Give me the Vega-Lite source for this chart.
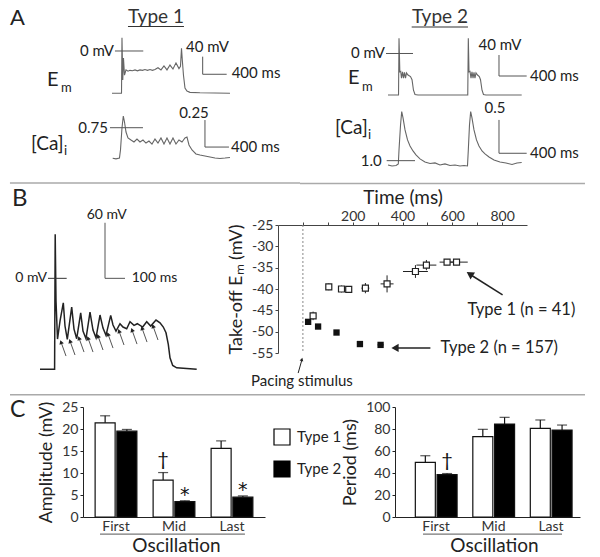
{
"$schema": "https://vega.github.io/schema/vega-lite/v6.json",
"padding": 0,
"background": "white",
"config": {
  "font": "Lato",
  "view": {"stroke": null},
  "axis": {"grid": false, "labelFont": "Lato", "titleFont": "Lato", "titleFontWeight": "normal", "labelColor": "#333", "titleColor": "#222", "domainColor": "#222", "tickColor": "#222", "labelFontSize": 14, "titleFontSize": 18, "labelOverlap": false},
  "text": {"font": "Lato", "color": "#222"},
  "legend": {"labelFont": "Lato"}
},
"datasets": {
  "t1em": [{"t":-167,"v":-96},{"t":-8,"v":-96},{"t":0,"v":30},{"t":13,"v":-66},{"t":25,"v":-16},{"t":42,"v":-55},{"t":67,"v":-43},{"t":100,"v":-46},{"t":133,"v":-44},{"t":175,"v":-45},{"t":217,"v":-43},{"t":258,"v":-45},{"t":300,"v":-43},{"t":342,"v":-44},{"t":383,"v":-42},{"t":425,"v":-44},{"t":467,"v":-42},{"t":508,"v":-44},{"t":550,"v":-42},{"t":600,"v":-38},{"t":650,"v":-43},{"t":700,"v":-34},{"t":750,"v":-43},{"t":800,"v":-32},{"t":850,"v":-41},{"t":900,"v":-27},{"t":950,"v":-40},{"t":975,"v":-35},{"t":992,"v":6},{"t":1005,"v":-20},{"t":1025,"v":-55},{"t":1050,"v":-84},{"t":1083,"v":-91},{"t":1133,"v":-94},{"t":1300,"v":-95},{"t":1800,"v":-96}],
  "t1ca": [{"t":-155,"v":0.467},{"t":-100,"v":0.462},{"t":-42,"v":0.469},{"t":-25,"v":0.544},{"t":0,"v":0.747},{"t":22,"v":0.858},{"t":42,"v":0.803},{"t":67,"v":0.71},{"t":100,"v":0.655},{"t":150,"v":0.636},{"t":200,"v":0.618},{"t":250,"v":0.645},{"t":300,"v":0.618},{"t":350,"v":0.636},{"t":400,"v":0.608},{"t":450,"v":0.627},{"t":500,"v":0.599},{"t":550,"v":0.645},{"t":600,"v":0.608},{"t":650,"v":0.655},{"t":700,"v":0.599},{"t":750,"v":0.655},{"t":800,"v":0.599},{"t":850,"v":0.655},{"t":900,"v":0.599},{"t":950,"v":0.636},{"t":1000,"v":0.618},{"t":1050,"v":0.655},{"t":1083,"v":0.664},{"t":1117,"v":0.59},{"t":1167,"v":0.544},{"t":1233,"v":0.507},{"t":1300,"v":0.497},{"t":1383,"v":0.488},{"t":1467,"v":0.479},{"t":1550,"v":0.469},{"t":1633,"v":0.465},{"t":1717,"v":0.469},{"t":1800,"v":0.474}],
  "t2em": [{"t":-159,"v":-79},{"t":-7,"v":-79},{"t":0,"v":29},{"t":12,"v":-35},{"t":25,"v":-34},{"t":36,"v":-47},{"t":51,"v":-35},{"t":65,"v":-47},{"t":79,"v":-36},{"t":94,"v":-47},{"t":108,"v":-37},{"t":130,"v":-41},{"t":166,"v":-44},{"t":188,"v":-50},{"t":209,"v":-70},{"t":231,"v":-78},{"t":274,"v":-79},{"t":993,"v":-79},{"t":1001,"v":29},{"t":1011,"v":-35},{"t":1025,"v":-34},{"t":1040,"v":-47},{"t":1054,"v":-35},{"t":1069,"v":-47},{"t":1083,"v":-36},{"t":1097,"v":-47},{"t":1112,"v":-37},{"t":1134,"v":-41},{"t":1160,"v":-44},{"t":1177,"v":-50},{"t":1199,"v":-70},{"t":1220,"v":-78},{"t":1256,"v":-79},{"t":1772,"v":-79}],
  "t2ca": [{"t":-159,"v":0.936},{"t":-101,"v":0.921},{"t":-43,"v":0.928},{"t":-10,"v":0.951},{"t":0,"v":1.161},{"t":22,"v":1.536},{"t":39,"v":1.735},{"t":58,"v":1.641},{"t":87,"v":1.461},{"t":123,"v":1.311},{"t":159,"v":1.221},{"t":202,"v":1.146},{"t":245,"v":1.086},{"t":303,"v":1.026},{"t":375,"v":0.981},{"t":448,"v":0.958},{"t":520,"v":0.966},{"t":592,"v":0.936},{"t":664,"v":0.951},{"t":736,"v":0.928},{"t":809,"v":0.936},{"t":881,"v":0.921},{"t":939,"v":0.928},{"t":989,"v":0.921},{"t":1001,"v":1.161},{"t":1018,"v":1.536},{"t":1035,"v":1.735},{"t":1054,"v":1.641},{"t":1083,"v":1.461},{"t":1119,"v":1.311},{"t":1155,"v":1.221},{"t":1199,"v":1.146},{"t":1242,"v":1.101},{"t":1300,"v":1.056},{"t":1372,"v":1.011},{"t":1458,"v":0.981},{"t":1545,"v":0.966},{"t":1632,"v":0.943},{"t":1704,"v":0.966},{"t":1772,"v":0.973}],
  "bem": [{"t":-75,"v":-98.3},{"t":-2,"v":-98.3},{"t":1,"v":47.5},{"t":5,"v":-24.5},{"t":12.5,"v":-65.6},{"t":25,"v":-46.1},{"t":41.5,"v":-26.4},{"t":50,"v":-51.5},{"t":61.5,"v":-65.9},{"t":83.5,"v":-31},{"t":95,"v":-54.8},{"t":108.5,"v":-65.2},{"t":128.5,"v":-37.2},{"t":140,"v":-56.9},{"t":155,"v":-65.2},{"t":175,"v":-36.4},{"t":190,"v":-55.8},{"t":205,"v":-64.2},{"t":225,"v":-39.6},{"t":240,"v":-53.7},{"t":255,"v":-61.6},{"t":278.5,"v":-40},{"t":290,"v":-50.4},{"t":305,"v":-56.9},{"t":325,"v":-49},{"t":340,"v":-52.6},{"t":358.5,"v":-54.4},{"t":375,"v":-46.9},{"t":395,"v":-50.8},{"t":411.5,"v":-49},{"t":438.5,"v":-52.6},{"t":458.5,"v":-46.9},{"t":478.5,"v":-51.5},{"t":505,"v":-45},{"t":525,"v":-48},{"t":541.5,"v":-52.6},{"t":555,"v":-58.8},{"t":566.5,"v":-71.3},{"t":575,"v":-85.8},{"t":588.5,"v":-94},{"t":608.5,"v":-96.6},{"t":708.5,"v":-98.3}],
  "barrows": [{"tt":55,"vt":-83.9,"th":30,"vh":-68.8},{"tt":100,"vt":-82.8,"th":75,"vh":-67.7},{"tt":145,"vt":-79.6,"th":120,"vh":-64.5},{"tt":190,"vt":-79.6,"th":165,"vh":-64.5},{"tt":240,"vt":-77.4,"th":215,"vh":-62.3},{"tt":290,"vt":-75.3,"th":265,"vh":-60.2},{"tt":345,"vt":-72,"th":320,"vh":-56.9},{"tt":410,"vt":-71,"th":385,"vh":-55.8},{"tt":460,"vt":-68.8,"th":435,"vh":-53.7},{"tt":515,"vt":-66.6,"th":490,"vh":-51.5}],
  "s1": [{"time":41,"em":-46.3,"tlo":33,"thi":49,"elo":-47.3,"ehi":-45.3},{"time":104,"em":-39.5,"tlo":98,"thi":110,"elo":-40.3,"ehi":-38.7},{"time":155,"em":-40,"tlo":147,"thi":163,"elo":-40.8,"ehi":-39.2},{"time":184,"em":-40.1,"tlo":178,"thi":190,"elo":-40.8,"ehi":-39.4},{"time":251,"em":-39.8,"tlo":235,"thi":267,"elo":-41,"ehi":-38.6},{"time":338,"em":-38.8,"tlo":312,"thi":364,"elo":-40.8,"ehi":-36.8},{"time":452,"em":-35.9,"tlo":402,"thi":502,"elo":-37.4,"ehi":-34.4},{"time":496,"em":-34.4,"tlo":456,"thi":536,"elo":-35.6,"ehi":-33.2},{"time":579,"em":-33.7,"tlo":549,"thi":609,"elo":-34.4,"ehi":-33},{"time":617,"em":-33.7,"tlo":572,"thi":662,"elo":-34.4,"ehi":-33}],
  "s2": [{"time":21,"em":-47.7,"tlo":17,"thi":25,"elo":-48.1,"ehi":-47.3},{"time":61,"em":-48.8,"tlo":57,"thi":65,"elo":-49.2,"ehi":-48.4},{"time":135,"em":-50.2,"tlo":130,"thi":140,"elo":-50.6,"ehi":-49.8},{"time":229,"em":-52.9,"tlo":223,"thi":235,"elo":-53.3,"ehi":-52.5},{"time":312,"em":-53.1,"tlo":300,"thi":324,"elo":-53.5,"ehi":-52.7}],
  "amp": [{"osc":"First","type":"Type 1","mean":21.4,"err":23.0,"sig":""},{"osc":"First","type":"Type 2","mean":19.5,"err":19.9,"sig":""},{"osc":"Mid","type":"Type 1","mean":8.4,"err":10.1,"sig":"†"},{"osc":"Mid","type":"Type 2","mean":3.5,"err":3.7,"sig":"*"},{"osc":"Last","type":"Type 1","mean":15.6,"err":17.3,"sig":""},{"osc":"Last","type":"Type 2","mean":4.5,"err":4.8,"sig":"*"}],
  "period": [{"osc":"First","type":"Type 1","mean":49.7,"err":55.7,"sig":""},{"osc":"First","type":"Type 2","mean":38.5,"err":39.5,"sig":"†"},{"osc":"Mid","type":"Type 1","mean":73,"err":79.7,"sig":""},{"osc":"Mid","type":"Type 2","mean":84.5,"err":90.6,"sig":""},{"osc":"Last","type":"Type 1","mean":80.6,"err":88.2,"sig":""},{"osc":"Last","type":"Type 2","mean":79,"err":83.6,"sig":""}]
},
"spacing": 0,
"bounds": "full",
"vconcat": [
 {"hconcat": [
  {"width": 300, "height": 184,
   "resolve": {"scale": {"y": "independent"}},
   "layer": [
    {"data": {"values": [{}]},
     "layer": [
      {"data": {"name": "t1em"}, "mark": {"type": "line", "color": "#666", "strokeWidth": 1.1},
       "encoding": {"x": {"field": "t", "type": "quantitative", "scale": {"domain": [-2033, 2967], "nice": false, "zero": false}, "axis": null},
                    "y": {"field": "v", "type": "quantitative", "scale": {"domain": [-302.3, 115.9], "nice": false, "zero": false}, "axis": null}}},
      {"mark": {"type": "rule", "color": "#555"}, "encoding": {"x": {"datum": -117, "axis": null}, "x2": {"datum": 355}, "y": {"datum": 0, "axis": null}}},
      {"mark": {"type": "rule", "color": "#555"}, "encoding": {"x": {"datum": 1345, "axis": null}, "y": {"datum": -12.9, "axis": null}, "y2": {"datum": -52.9}}},
      {"mark": {"type": "rule", "color": "#555"}, "encoding": {"x": {"datum": 1345, "axis": null}, "x2": {"datum": 1745}, "y": {"datum": -52.9, "axis": null}}},
      {"mark": {"type": "text", "text": "0 mV", "align": "right", "baseline": "middle", "fontSize": 15}, "encoding": {"x": {"datum": -133, "axis": null}, "y": {"datum": 0, "axis": null}}},
      {"mark": {"type": "text", "text": "40 mV", "align": "center", "baseline": "middle", "fontSize": 15}, "encoding": {"x": {"datum": 1425, "axis": null}, "y": {"datum": 9, "axis": null}}},
      {"mark": {"type": "text", "text": "400 ms", "align": "left", "baseline": "middle", "fontSize": 15}, "encoding": {"x": {"datum": 1828, "axis": null}, "y": {"datum": -50, "axis": null}}},
      {"mark": {"type": "text", "text": "E", "align": "left", "baseline": "alphabetic", "fontSize": 20}, "encoding": {"x": {"datum": -1250, "axis": null}, "y": {"datum": -79.5, "axis": null}}},
      {"mark": {"type": "text", "text": "m", "align": "left", "baseline": "alphabetic", "fontSize": 13}, "encoding": {"x": {"datum": -1017, "axis": null}, "y": {"datum": -93.2, "axis": null}}},
      {"mark": {"type": "text", "text": "Type 1", "align": "center", "baseline": "alphabetic", "fontSize": 19, "color": "#333"}, "encoding": {"x": {"datum": 567, "axis": null}, "y": {"datum": 63.6, "axis": null}}},
      {"mark": {"type": "rule", "color": "#333", "strokeWidth": 1.2}, "encoding": {"x": {"datum": 100, "axis": null}, "x2": {"datum": 1033}, "y": {"datum": 55.7, "axis": null}}},
      {"mark": {"type": "text", "text": "A", "align": "left", "baseline": "alphabetic", "fontSize": 22}, "encoding": {"x": {"datum": -1867, "axis": null}, "y": {"datum": 59.1, "axis": null}}},
      {"mark": {"type": "rule", "color": "#aaa", "strokeWidth": 1.5}, "encoding": {"x": {"datum": -1867, "axis": null}, "x2": {"datum": 2967}, "y": {"datum": -300, "axis": null}}}
     ]},
    {"data": {"values": [{}]},
     "layer": [
      {"data": {"name": "t1ca"}, "mark": {"type": "line", "color": "#666", "strokeWidth": 1.1},
       "encoding": {"x": {"field": "t", "type": "quantitative", "scale": {"domain": [-2033, 2967], "nice": false, "zero": false}, "axis": null},
                    "y": {"field": "v", "type": "quantitative", "scale": {"domain": [0.229, 1.932], "nice": false, "zero": false}, "axis": null}}},
      {"mark": {"type": "rule", "color": "#555"}, "encoding": {"x": {"datum": -200, "axis": null}, "x2": {"datum": 350}, "y": {"datum": 0.75, "axis": null}}},
      {"mark": {"type": "rule", "color": "#555"}, "encoding": {"x": {"datum": 1383, "axis": null}, "y": {"datum": 0.821, "axis": null}, "y2": {"datum": 0.571}}},
      {"mark": {"type": "rule", "color": "#555"}, "encoding": {"x": {"datum": 1383, "axis": null}, "x2": {"datum": 1783}, "y": {"datum": 0.571, "axis": null}}},
      {"mark": {"type": "text", "text": "0.75", "align": "right", "baseline": "middle", "fontSize": 15}, "encoding": {"x": {"datum": -233, "axis": null}, "y": {"datum": 0.75, "axis": null}}},
      {"mark": {"type": "text", "text": "0.25", "align": "center", "baseline": "middle", "fontSize": 15}, "encoding": {"x": {"datum": 1200, "axis": null}, "y": {"datum": 0.889, "axis": null}}},
      {"mark": {"type": "text", "text": "400 ms", "align": "left", "baseline": "middle", "fontSize": 15}, "encoding": {"x": {"datum": 1817, "axis": null}, "y": {"datum": 0.574, "axis": null}}},
      {"mark": {"type": "text", "text": "[Ca]", "align": "left", "baseline": "alphabetic", "fontSize": 19}, "encoding": {"x": {"datum": -1517, "axis": null}, "y": {"datum": 0.544, "axis": null}}},
      {"mark": {"type": "text", "text": "i", "align": "left", "baseline": "alphabetic", "fontSize": 13}, "encoding": {"x": {"datum": -967, "axis": null}, "y": {"datum": 0.497, "axis": null}}}
     ]}
   ]},
  {"width": 300, "height": 184,
   "resolve": {"scale": {"y": "independent"}},
   "layer": [
    {"data": {"values": [{}]},
     "layer": [
      {"data": {"name": "t2em"}, "mark": {"type": "line", "color": "#666", "strokeWidth": 1.1},
       "encoding": {"x": {"field": "t", "type": "quantitative", "scale": {"domain": [-1430, 2903], "nice": false, "zero": false}, "axis": null},
                    "y": {"field": "v", "type": "quantitative", "scale": {"domain": [-248.6, 101.9], "nice": false, "zero": false}, "axis": null}}},
      {"mark": {"type": "rule", "color": "#555"}, "encoding": {"x": {"datum": -188, "axis": null}, "x2": {"datum": 202}, "y": {"datum": 0, "axis": null}}},
      {"mark": {"type": "rule", "color": "#555"}, "encoding": {"x": {"datum": 1444, "axis": null}, "y": {"datum": -2.9, "axis": null}, "y2": {"datum": -42.9}}},
      {"mark": {"type": "rule", "color": "#555"}, "encoding": {"x": {"datum": 1444, "axis": null}, "x2": {"datum": 1844}, "y": {"datum": -42.9, "axis": null}}},
      {"mark": {"type": "text", "text": "0 mV", "align": "right", "baseline": "middle", "fontSize": 15}, "encoding": {"x": {"datum": -202, "axis": null}, "y": {"datum": 0, "axis": null}}},
      {"mark": {"type": "text", "text": "40 mV", "align": "center", "baseline": "middle", "fontSize": 15}, "encoding": {"x": {"datum": 1458, "axis": null}, "y": {"datum": 16.2, "axis": null}}},
      {"mark": {"type": "text", "text": "400 ms", "align": "left", "baseline": "middle", "fontSize": 15}, "encoding": {"x": {"datum": 1892, "axis": null}, "y": {"datum": -42.9, "axis": null}}},
      {"mark": {"type": "text", "text": "E", "align": "left", "baseline": "alphabetic", "fontSize": 20}, "encoding": {"x": {"datum": -736, "axis": null}, "y": {"datum": -58.1, "axis": null}}},
      {"mark": {"type": "text", "text": "m", "align": "left", "baseline": "alphabetic", "fontSize": 13}, "encoding": {"x": {"datum": -534, "axis": null}, "y": {"datum": -71.4, "axis": null}}},
      {"mark": {"type": "text", "text": "Type 2", "align": "center", "baseline": "alphabetic", "fontSize": 19, "color": "#333"}, "encoding": {"x": {"datum": 592, "axis": null}, "y": {"datum": 58.1, "axis": null}}},
      {"mark": {"type": "rule", "color": "#333", "strokeWidth": 1.2}, "encoding": {"x": {"datum": 183, "axis": null}, "x2": {"datum": 996}, "y": {"datum": 50.5, "axis": null}}},
      {"mark": {"type": "rule", "color": "#aaa", "strokeWidth": 1.5}, "encoding": {"x": {"datum": -1430, "axis": null}, "x2": {"datum": 2686}, "y": {"datum": -247.7, "axis": null}}}
     ]},
    {"data": {"values": [{}]},
     "layer": [
      {"data": {"name": "t2ca"}, "mark": {"type": "line", "color": "#666", "strokeWidth": 1.1},
       "encoding": {"x": {"field": "t", "type": "quantitative", "scale": {"domain": [-1430, 2903], "nice": false, "zero": false}, "axis": null},
                    "y": {"field": "v", "type": "quantitative", "scale": {"domain": [0.65, 3.41], "nice": false, "zero": false}, "axis": null}}},
      {"mark": {"type": "rule", "color": "#555"}, "encoding": {"x": {"datum": -178, "axis": null}, "x2": {"datum": 231}, "y": {"datum": 1.0, "axis": null}}},
      {"mark": {"type": "rule", "color": "#555"}, "encoding": {"x": {"datum": 1444, "axis": null}, "y": {"datum": 1.611, "axis": null}, "y2": {"datum": 1.111}}},
      {"mark": {"type": "rule", "color": "#555"}, "encoding": {"x": {"datum": 1444, "axis": null}, "x2": {"datum": 1844}, "y": {"datum": 1.111, "axis": null}}},
      {"mark": {"type": "text", "text": "1.0", "align": "right", "baseline": "middle", "fontSize": 15}, "encoding": {"x": {"datum": -250, "axis": null}, "y": {"datum": 1.0, "axis": null}}},
      {"mark": {"type": "text", "text": "0.5", "align": "center", "baseline": "middle", "fontSize": 15}, "encoding": {"x": {"datum": 1386, "axis": null}, "y": {"datum": 1.786, "axis": null}}},
      {"mark": {"type": "text", "text": "400 ms", "align": "left", "baseline": "middle", "fontSize": 15}, "encoding": {"x": {"datum": 1892, "axis": null}, "y": {"datum": 1.111, "axis": null}}},
      {"mark": {"type": "text", "text": "[Ca]", "align": "left", "baseline": "alphabetic", "fontSize": 19}, "encoding": {"x": {"datum": -924, "axis": null}, "y": {"datum": 1.40, "axis": null}}},
      {"mark": {"type": "text", "text": "i", "align": "left", "baseline": "alphabetic", "fontSize": 13}, "encoding": {"x": {"datum": -448, "axis": null}, "y": {"datum": 1.326, "axis": null}}}
     ]}
   ]}
 ], "spacing": 0, "bounds": "flush"},
 {"hconcat": [
  {"width": 278, "height": 214,
   "data": {"values": [{}]},
   "layer": [
    {"data": {"name": "bem"}, "mark": {"type": "line", "color": "#222", "strokeWidth": 1.5},
     "encoding": {"x": {"field": "t", "type": "quantitative", "scale": {"domain": [-275, 1115], "nice": false, "zero": false}, "axis": null},
                  "y": {"field": "v", "type": "quantitative", "scale": {"domain": [-130.3, 100.8], "nice": false, "zero": false}, "axis": null}}},
    {"mark": {"type": "rule", "color": "#333"}, "encoding": {"x": {"datum": -35, "axis": null}, "x2": {"datum": 58.5}, "y": {"datum": 0, "axis": null}}},
    {"mark": {"type": "rule", "color": "#555"}, "encoding": {"x": {"datum": 250, "axis": null}, "y": {"datum": 60, "axis": null}, "y2": {"datum": 0}}},
    {"mark": {"type": "rule", "color": "#555"}, "encoding": {"x": {"datum": 250, "axis": null}, "x2": {"datum": 350}, "y": {"datum": 0, "axis": null}}},
    {"mark": {"type": "text", "text": "0 mV", "align": "right", "baseline": "middle", "fontSize": 14}, "encoding": {"x": {"datum": -40, "axis": null}, "y": {"datum": 0, "axis": null}}},
    {"mark": {"type": "text", "text": "60 mV", "align": "center", "baseline": "middle", "fontSize": 14}, "encoding": {"x": {"datum": 258.5, "axis": null}, "y": {"datum": 68.4, "axis": null}}},
    {"mark": {"type": "text", "text": "100 ms", "align": "left", "baseline": "middle", "fontSize": 14}, "encoding": {"x": {"datum": 383.5, "axis": null}, "y": {"datum": 0, "axis": null}}},
    {"mark": {"type": "text", "text": "B", "align": "left", "baseline": "alphabetic", "fontSize": 24}, "encoding": {"x": {"datum": -215, "axis": null}, "y": {"datum": 78.1, "axis": null}}},
    {"data": {"name": "barrows"}, "mark": {"type": "rule", "color": "#555", "strokeWidth": 1},
     "encoding": {"x": {"field": "tt", "type": "quantitative", "axis": null}, "x2": {"field": "th"}, "y": {"field": "vt", "type": "quantitative", "axis": null}, "y2": {"field": "vh"}}},
    {"data": {"name": "barrows"}, "mark": {"type": "point", "shape": "triangle-up", "angle": 340, "size": 22, "filled": true, "color": "#222", "opacity": 1},
     "encoding": {"x": {"field": "th", "type": "quantitative", "axis": null}, "y": {"field": "vh", "type": "quantitative", "axis": null}}},
    {"mark": {"type": "rule", "color": "#aaa", "strokeWidth": 1.5}, "encoding": {"x": {"datum": -225, "axis": null}, "x2": {"datum": 2650}, "y": {"datum": -125.6, "axis": null}}}
   ]},
  {"vconcat": [
    {"width": 249, "height": 40, "data": {"values": [{}]}, "mark": {"type": "text", "text": ""}, "encoding": {}},
    {"width": 249, "height": 128,
     "data": {"values": [{}]},
     "layer": [
      {"mark": {"type": "rule", "color": "#888", "strokeDash": [2, 2], "strokeWidth": 1},
       "encoding": {"x": {"datum": 0, "type": "quantitative", "scale": {"domain": [-100, 900], "nice": false, "zero": false},
         "axis": {"orient": "top", "title": "Time (ms)", "values": [0, 100, 200, 300, 400, 500, 600, 700, 800], "tickCount": 30, "labelExpr": "datum.value > 0 && datum.value % 200 == 0 ? datum.label : ''", "labelOverlap": false, "tickSize": 3, "labelFontSize": 14, "titleFontSize": 19, "titleFontWeight": "normal", "titlePadding": 2, "labelPadding": -1, "domainColor": "#444", "tickColor": "#444"}}}},
      {"data": {"name": "s1"}, "mark": {"type": "rule", "color": "#222", "strokeWidth": 1},
       "encoding": {"x": {"field": "tlo", "type": "quantitative"}, "x2": {"field": "thi"},
         "y": {"field": "em", "type": "quantitative", "scale": {"domain": [-55, -25], "nice": false, "zero": false},
           "axis": {"title": "Take-off Eₘ (mV)", "values": [-55, -50, -45, -40, -35, -30, -25], "tickCount": 30, "labelExpr": "(datum.value < 0 ? '-' : '') + abs(datum.value)", "labelOverlap": false, "tickSize": 3, "labelPadding": 2, "labelFontSize": 14, "titleFontSize": 18, "titleFontWeight": "normal", "titlePadding": 6, "domainColor": "#444", "tickColor": "#444"}}}},
      {"data": {"name": "s1"}, "mark": {"type": "rule", "color": "#222", "strokeWidth": 1},
       "encoding": {"x": {"field": "time", "type": "quantitative"}, "y": {"field": "elo", "type": "quantitative"}, "y2": {"field": "ehi"}}},
      {"data": {"name": "s2"}, "mark": {"type": "rule", "color": "#111", "strokeWidth": 1},
       "encoding": {"x": {"field": "tlo", "type": "quantitative"}, "x2": {"field": "thi"}, "y": {"field": "em", "type": "quantitative"}}},
      {"data": {"name": "s1"}, "mark": {"type": "point", "shape": "square", "size": 36, "filled": true, "fill": "white", "stroke": "#222", "strokeWidth": 1.2, "opacity": 1},
       "encoding": {"x": {"field": "time", "type": "quantitative"}, "y": {"field": "em", "type": "quantitative"}}},
      {"data": {"name": "s2"}, "mark": {"type": "point", "shape": "square", "size": 40, "filled": true, "color": "#111", "opacity": 1},
       "encoding": {"x": {"field": "time", "type": "quantitative"}, "y": {"field": "em", "type": "quantitative"}}},
      {"mark": {"type": "text", "text": "Type 1 (n = 41)", "align": "left", "baseline": "middle", "fontSize": 16.5}, "encoding": {"x": {"datum": 661}, "y": {"datum": -44.9}}},
      {"mark": {"type": "text", "text": "Type 2 (n = 157)", "align": "left", "baseline": "middle", "fontSize": 16.5}, "encoding": {"x": {"datum": 553}, "y": {"datum": -53.8}}},
      {"mark": {"type": "text", "text": "Pacing stimulus", "align": "center", "baseline": "middle", "fontSize": 15}, "encoding": {"x": {"datum": -4}, "y": {"datum": -61.6}}},
      {"mark": {"type": "rule", "color": "#222", "strokeWidth": 1.5}, "encoding": {"x": {"datum": 802}, "x2": {"datum": 672}, "y": {"datum": -41.4}, "y2": {"datum": -36.6}}},
      {"mark": {"type": "point", "shape": "triangle-up", "angle": 303, "size": 70, "filled": true, "color": "#222", "opacity": 1}, "encoding": {"x": {"datum": 670}, "y": {"datum": -36.5}}},
      {"mark": {"type": "rule", "color": "#222", "strokeWidth": 1.5}, "encoding": {"x": {"datum": 512}, "x2": {"datum": 372}, "y": {"datum": -53.8}}},
      {"mark": {"type": "point", "shape": "triangle-up", "angle": 270, "size": 70, "filled": true, "color": "#222", "opacity": 1}, "encoding": {"x": {"datum": 370}, "y": {"datum": -53.8}}},
      {"mark": {"type": "rule", "color": "#222", "strokeWidth": 1}, "encoding": {"x": {"datum": -19}, "x2": {"datum": -4}, "y": {"datum": -59.7}, "y2": {"datum": -56.6}}},
      {"mark": {"type": "point", "shape": "triangle-up", "angle": 16, "size": 14, "filled": true, "color": "#222", "opacity": 1}, "encoding": {"x": {"datum": -4}, "y": {"datum": -56.5}}}
     ]}
   ], "spacing": 0, "bounds": "flush"}
 ], "spacing": 0, "bounds": "flush"},
 {"hconcat": [
  {"width": 83, "height": 110, "data": {"values": [{}]}, "mark": {"type": "text", "text": "C", "fontSize": 23, "align": "left", "baseline": "alphabetic"},
   "encoding": {"x": {"datum": 0.12, "type": "quantitative", "scale": {"domain": [0, 1], "nice": false}, "axis": null}, "y": {"datum": 0.909, "type": "quantitative", "scale": {"domain": [0, 1], "nice": false}, "axis": null}}},
  {"width": 182, "height": 110,
   "data": {"name": "amp"},
   "encoding": {"x": {"field": "osc", "type": "nominal", "sort": ["First", "Mid", "Last"], "scale": {"paddingInner": 0.28, "paddingOuter": 0.209},
      "axis": {"title": "Oscillation", "labelAngle": 0, "ticks": false, "labelPadding": 2, "labelFontSize": 14, "titleFontSize": 19, "titlePadding": 3, "titleX": 93}}},
   "layer": [
    {"mark": {"type": "bar", "stroke": "#111", "strokeWidth": 1.2},
     "encoding": {"xOffset": {"field": "type", "type": "nominal", "scale": {"paddingInner": 0.08}},
       "y": {"field": "mean", "type": "quantitative", "scale": {"domain": [0, 25], "nice": false}, "axis": {"title": "Amplitude (mV)", "values": [0, 5, 10, 15, 20, 25], "tickCount": 30, "labelOverlap": false, "tickSize": 3, "labelPadding": 2, "titlePadding": 6}},
       "fill": {"field": "type", "type": "nominal", "scale": {"domain": ["Type 1", "Type 2"], "range": ["white", "black"]},
         "legend": {"orient": "none", "legendX": 273, "legendY": 428, "title": null, "symbolType": "square", "symbolSize": 256, "symbolStrokeColor": "black", "symbolStrokeWidth": 1.2, "labelFontSize": 15, "labelColor": "#222", "rowPadding": 10, "labelOffset": 6, "padding": 0}}}},
    {"mark": {"type": "rule", "color": "#111", "strokeWidth": 1.2},
     "encoding": {"xOffset": {"field": "type", "type": "nominal"}, "y": {"field": "mean", "type": "quantitative"}, "y2": {"field": "err"}}},
    {"mark": {"type": "tick", "color": "#111", "thickness": 1.2, "size": 10},
     "encoding": {"xOffset": {"field": "type", "type": "nominal"}, "y": {"field": "err", "type": "quantitative"}}},
    {"transform": [{"filter": "datum.sig == '†'"}], "mark": {"type": "text", "fontSize": 20, "baseline": "middle", "dy": -13, "color": "#111"},
     "encoding": {"xOffset": {"field": "type", "type": "nominal"}, "y": {"field": "err", "type": "quantitative"}, "text": {"field": "sig"}}},
    {"transform": [{"filter": "datum.sig == '*'"}], "mark": {"type": "text", "font": "DejaVu Sans", "fontSize": 19, "baseline": "middle", "dy": -6, "color": "#111"},
     "encoding": {"xOffset": {"field": "type", "type": "nominal"}, "y": {"field": "err", "type": "quantitative"}, "text": {"field": "sig"}}},
    {"data": {"values": [{}]}, "mark": {"type": "rule", "color": "#777", "strokeWidth": 1.2},
     "encoding": {"x": {"datum": "First", "bandPosition": 0.117}, "x2": {"datum": "Last", "bandPosition": 0.81}, "y": {"datum": -3.9}}}
   ]},
  {"width": 130, "height": 110, "data": {"values": [{}]}, "mark": {"type": "text", "text": ""}, "encoding": {}},
  {"width": 185, "height": 110,
   "data": {"name": "period"},
   "encoding": {"x": {"field": "osc", "type": "nominal", "sort": ["First", "Mid", "Last"], "scale": {"paddingInner": 0.28, "paddingOuter": 0.249, "align": 0.71},
      "axis": {"title": "Oscillation", "labelAngle": 0, "ticks": false, "labelPadding": 2, "labelFontSize": 14, "titleFontSize": 19, "titlePadding": 3, "titleX": 99}}},
   "layer": [
    {"mark": {"type": "bar", "stroke": "#111", "strokeWidth": 1.2},
     "encoding": {"xOffset": {"field": "type", "type": "nominal", "scale": {"paddingInner": 0.08}},
       "y": {"field": "mean", "type": "quantitative", "scale": {"domain": [0, 100], "nice": false}, "axis": {"title": "Period (ms)", "values": [0, 20, 40, 60, 80, 100], "tickCount": 30, "labelOverlap": false, "tickSize": 3, "labelPadding": 2, "titlePadding": 6}},
       "fill": {"field": "type", "type": "nominal", "scale": {"domain": ["Type 1", "Type 2"], "range": ["white", "black"]},
         "legend": {"orient": "none", "legendX": 273, "legendY": 428, "title": null, "symbolType": "square", "symbolSize": 256, "symbolStrokeColor": "black", "symbolStrokeWidth": 1.2, "labelFontSize": 15, "labelColor": "#222", "rowPadding": 10, "labelOffset": 6, "padding": 0}}}},
    {"mark": {"type": "rule", "color": "#111", "strokeWidth": 1.2},
     "encoding": {"xOffset": {"field": "type", "type": "nominal"}, "y": {"field": "mean", "type": "quantitative"}, "y2": {"field": "err"}}},
    {"mark": {"type": "tick", "color": "#111", "thickness": 1.2, "size": 10},
     "encoding": {"xOffset": {"field": "type", "type": "nominal"}, "y": {"field": "err", "type": "quantitative"}}},
    {"transform": [{"filter": "datum.sig == '†'"}], "mark": {"type": "text", "fontSize": 20, "baseline": "middle", "dy": -13, "color": "#111"},
     "encoding": {"xOffset": {"field": "type", "type": "nominal"}, "y": {"field": "err", "type": "quantitative"}, "text": {"field": "sig"}}},
    {"data": {"values": [{}]}, "mark": {"type": "rule", "color": "#777", "strokeWidth": 1.2},
     "encoding": {"x": {"datum": "First", "bandPosition": 0.186}, "x2": {"datum": "Last", "bandPosition": 0.766}, "y": {"datum": -15.5}}}
   ]}
 ], "spacing": 0, "bounds": "flush"}
]
}
